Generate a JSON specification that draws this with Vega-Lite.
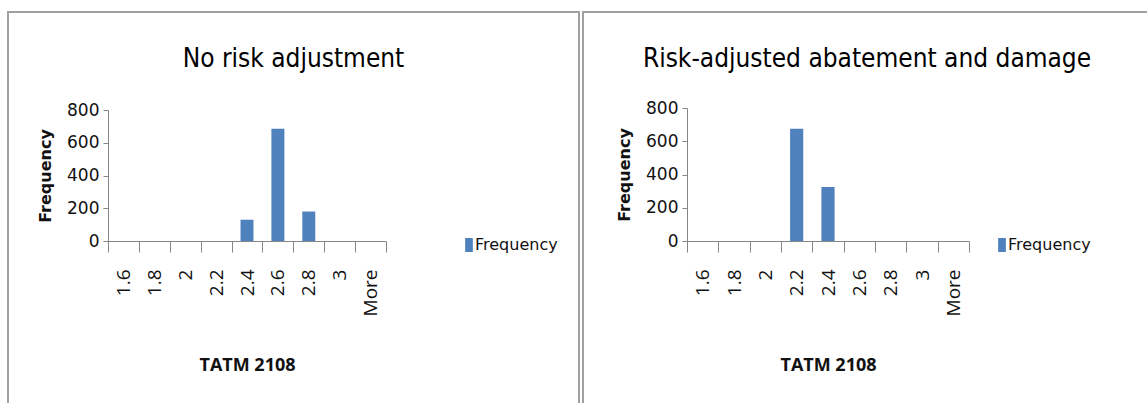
{
  "$schema": "https://vega.github.io/schema/vega-lite/v6.json",
  "background": "white",
  "padding": {"left": -2, "top": 11, "right": 0, "bottom": 0},
  "autosize": {"type": "pad"},
  "bounds": "flush",
  "spacing": 4,
  "resolve": {"scale": {"color": "independent"}, "legend": {"color": "independent"}},
  "config": {
    "view": {"stroke": "#a0a0a0", "strokeWidth": 2},
    "font": "DejaVu Sans",
    "title": {"font": "DejaVu Sans Condensed, Open Sans, sans-serif", "fontSize": 26, "fontWeight": "normal", "color": "#000000", "anchor": "middle", "frame": "group", "baseline": "alphabetic", "offset": -60},
    "axis": {"grid": false, "domainColor": "#868686", "tickColor": "#868686", "labelColor": "#111111", "titleColor": "#111111"},
    "legend": {"padding": 0, "symbolType": "M-0.55,-1H0.55V1H-0.55Z", "symbolSize": 196, "symbolStrokeWidth": 0, "labelFont": "DejaVu Sans", "labelFontSize": 16, "labelColor": "#111111", "labelOffset": -2}
  },
  "datasets": {
    "noRisk": [
      {"bin": "1.6", "freq": 0},
      {"bin": "1.8", "freq": 0},
      {"bin": "2", "freq": 0},
      {"bin": "2.2", "freq": 0},
      {"bin": "2.4", "freq": 130},
      {"bin": "2.6", "freq": 685},
      {"bin": "2.8", "freq": 180},
      {"bin": "3", "freq": 0},
      {"bin": "More", "freq": 0}
    ],
    "riskAdj": [
      {"bin": "1.6", "freq": 0},
      {"bin": "1.8", "freq": 0},
      {"bin": "2", "freq": 0},
      {"bin": "2.2", "freq": 675},
      {"bin": "2.4", "freq": 325},
      {"bin": "2.6", "freq": 0},
      {"bin": "2.8", "freq": 0},
      {"bin": "3", "freq": 0},
      {"bin": "More", "freq": 0}
    ]
  },
  "hconcat": [
    {
      "width": 571,
      "height": 400,
      "title": "No risk adjustment",
      "data": {"name": "noRisk"},
      "mark": {"type": "bar", "width": {"band": 0.42}},
      "encoding": {
        "x": {
          "field": "bin", "type": "nominal", "sort": null,
          "scale": {"range": [100, 378], "paddingInner": 0, "paddingOuter": 0},
          "axis": {"title": "TATM 2108", "offset": -171, "labelAngle": -90, "tickBand": "extent", "tickSize": 11, "labelPadding": 17, "labelFont": "Open Sans", "labelFontSize": 19, "titleFont": "Open Sans", "titleFontSize": 18, "titleFontWeight": "bold", "titlePadding": 41}
        },
        "y": {
          "field": "freq", "type": "quantitative",
          "scale": {"domain": [0, 800], "range": [229, 98], "nice": false},
          "axis": {"title": "Frequency", "offset": -100, "values": [0, 200, 400, 600, 800], "tickSize": 5, "labelFont": "DejaVu Sans", "labelFontSize": 17, "labelPadding": 4, "titleFont": "DejaVu Sans", "titleFontSize": 16, "titleFontWeight": "bold", "titlePadding": 13}
        },
        "color": {"datum": "Frequency", "scale": {"range": ["#4F81BD"]}, "legend": {"title": null, "orient": "none", "legendX": 453, "legendY": 225}}
      }
    },
    {
      "width": 568,
      "height": 400,
      "title": "Risk-adjusted abatement and damage",
      "data": {"name": "riskAdj"},
      "mark": {"type": "bar", "width": {"band": 0.42}},
      "encoding": {
        "x": {
          "field": "bin", "type": "nominal", "sort": null,
          "scale": {"range": [104, 386], "paddingInner": 0, "paddingOuter": 0},
          "axis": {"title": "TATM 2108", "offset": -171, "labelAngle": -90, "tickBand": "extent", "tickSize": 11, "labelPadding": 17, "labelFont": "Open Sans", "labelFontSize": 19, "titleFont": "Open Sans", "titleFontSize": 18, "titleFontWeight": "bold", "titlePadding": 41}
        },
        "y": {
          "field": "freq", "type": "quantitative",
          "scale": {"domain": [0, 800], "range": [229, 96], "nice": false},
          "axis": {"title": "Frequency", "offset": -104, "values": [0, 200, 400, 600, 800], "tickSize": 5, "labelFont": "DejaVu Sans", "labelFontSize": 17, "labelPadding": 4, "titleFont": "DejaVu Sans", "titleFontSize": 16, "titleFontWeight": "bold", "titlePadding": 13}
        },
        "color": {"datum": "Frequency", "scale": {"range": ["#4F81BD"]}, "legend": {"title": null, "orient": "none", "legendX": 411, "legendY": 225}}
      }
    }
  ]
}
